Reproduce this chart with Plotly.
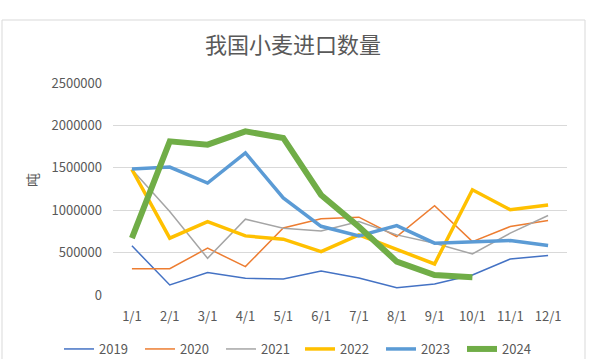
import plotly.graph_objects as go

months = ["1/1", "2/1", "3/1", "4/1", "5/1", "6/1", "7/1", "8/1", "9/1", "10/1", "11/1", "12/1"]
y2019 = [580000, 118000, 264000, 197000, 189000, 284000, 200000, 86000, 130000, 236000, 425000, 465000]
y2020 = [311000, 311000, 552000, 335000, 790000, 898000, 918000, 690000, 1052000, 630000, 807000, 878000]
y2021 = [1480000, 985000, 433000, 894000, 788000, 756000, 866000, 709000, 611000, 484000, 729000, 937000]
y2022 = [1480000, 670000, 866000, 697000, 658000, 512000, 709000, 532000, 366000, 1241000, 1005000, 1060000]
y2023 = [1485000, 1509000, 1320000, 1675000, 1145000, 810000, 697000, 819000, 611000, 627000, 642000, 583000]
y2024 = [670000, 1812000, 1773000, 1930000, 1852000, 1180000, 805000, 394000, 236000, 209000]

series = [
    ("2019", y2019, "#4472C4", 1.5, "legend"),
    ("2020", y2020, "#ED7D31", 1.5, "legend"),
    ("2021", y2021, "#A5A5A5", 1.5, "legend"),
    ("2022", y2022, "#FFC000", 3.5, "legend2"),
    ("2023", y2023, "#5B9BD5", 3.5, "legend2"),
    ("2024", y2024, "#70AD47", 6, "legend2"),
]

FONT = "Noto Sans CJK SC, Liberation Sans, sans-serif"
fig = go.Figure()
for name, vals, color, w, lg in series:
    fig.add_trace(go.Scatter(
        x=months[:len(vals)], y=vals, mode="lines", name=name, legend=lg,
        line=dict(color=color, width=w), hoverinfo="skip"))

legend_common = dict(orientation="h", xanchor="left", xref="container",
                     y=1 - 334/359, yanchor="top", yref="container",
                     font=dict(size=13, color="#595959"), entrywidth=36,
                     bgcolor="rgba(0,0,0,0)", borderwidth=0)

fig.update_layout(
    width=600, height=359,
    margin=dict(l=113, r=33, t=83, b=64),
    paper_bgcolor="white", plot_bgcolor="white",
    font=dict(family=FONT, color="#595959", size=12),
    title=dict(text="我国小麦进口数量", x=293/600, xanchor="center", xref="container",
               y=1 - 45/359, yanchor="middle", yref="container",
               font=dict(size=22, color="#595959", family=FONT)),
    showlegend=True,
    legend=dict(x=59/600, **legend_common),
    legend2=dict(x=300/600, **legend_common),
    xaxis=dict(type="category", categoryorder="array", categoryarray=months,
               range=[-0.5, 11.5], showgrid=False, zeroline=False, showline=False,
               automargin=False,
               ticks="", ticklabelstandoff=12, tickfont=dict(size=13, color="#595959")),
    yaxis=dict(range=[0, 2500000], tickvals=[0, 500000, 1000000, 1500000, 2000000, 2500000],
               ticktext=["0", "500000", "1000000", "1500000", "2000000", "2500000"],
               showgrid=True, gridcolor="#d9d9d9", gridwidth=1, zeroline=False,
               showline=False, ticks="", ticklabelstandoff=10, automargin=False,
               tickfont=dict(size=13, color="#595959")),
    annotations=[dict(text="吨", x=(32-113)/454, y=(295-180)/212, xref="paper", yref="paper",
                      xanchor="center", yanchor="middle", textangle=-90, showarrow=False,
                      font=dict(size=14, color="#595959", family=FONT))],
    shapes=[dict(type="rect", xref="paper", yref="paper",
                 x0=(2-113)/454, x1=(585-113)/454, y0=(295-370)/212, y1=(295-20)/212,
                 line=dict(color="#d9d9d9", width=1), fillcolor="rgba(0,0,0,0)", layer="below")],
)

post = "document.body.style.margin='0';"
fig.write_html("out.html", post_script=post, config={"displayModeBar": False})
